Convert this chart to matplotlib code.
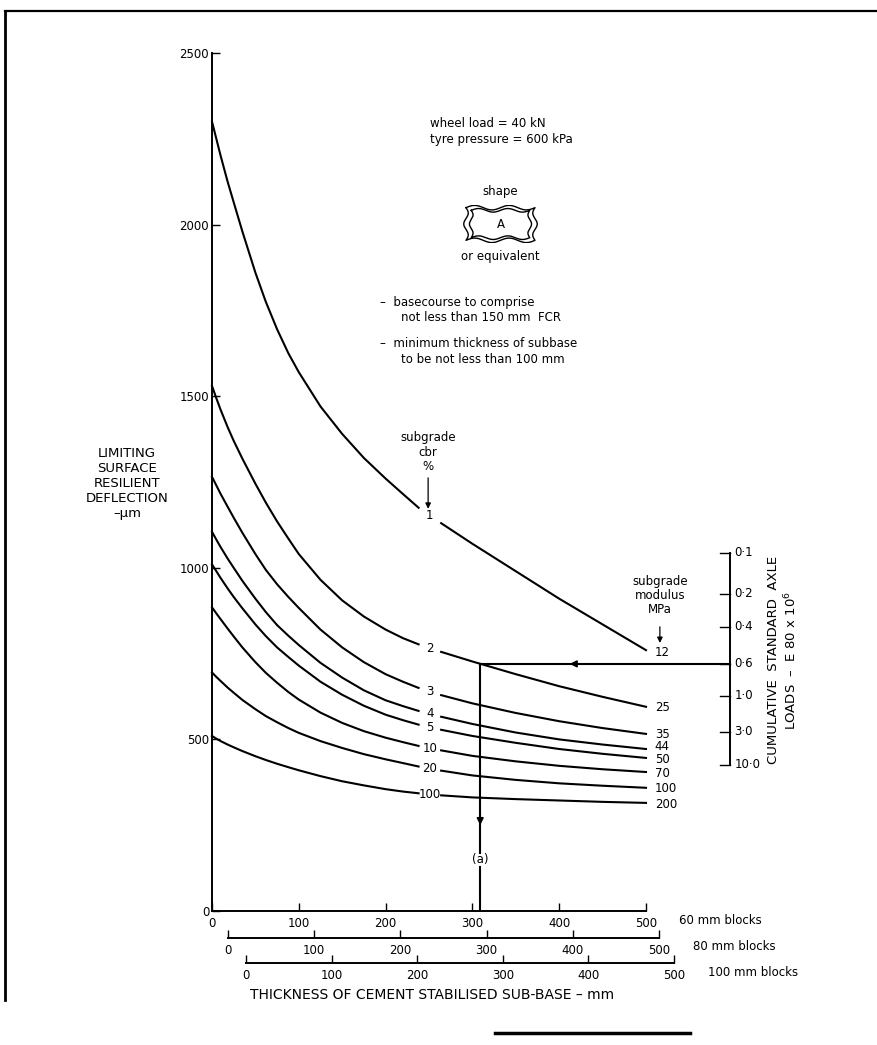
import matplotlib
matplotlib.use('Agg')
import matplotlib.pyplot as plt
import numpy as np

plt.rcParams['font.family'] = ['DejaVu Sans']

# thickness of cement stabilised sub-base, mm (60 mm block scale)
thick = [0, 5, 10, 18, 25, 35, 50, 62, 75, 88, 100, 125, 150, 175, 200, 220, 238,
         264, 300, 350, 400, 450, 500]
cbr = ['1', '2', '3', '4', '5', '10', '20', '100']
modulus = ['12', '25', '35', '44', '50', '70', '100', '200']
modulus_y = [752, 592, 513, 480, 440, 402, 356, 309]
defl_1 = [2300, 2250, 2200, 2125, 2065, 1980, 1860, 1775, 1695, 1625, 1570, 1470, 1390,
          1320, 1260, 1215, 1175, 1130, 1070, 990, 910, 835, 760]
defl_2 = [1530, 1494, 1460, 1410, 1370, 1318, 1245, 1190, 1135, 1085, 1040, 965, 905,
          858, 820, 795, 777, 755, 727, 690, 655, 624, 595]
defl_3 = [1265, 1240, 1215, 1178, 1146, 1102, 1040, 994, 952, 915, 883, 820, 768,
          725, 690, 668, 650, 629, 605, 577, 553, 533, 516]
defl_4 = [1105, 1082, 1060, 1027, 1000, 962, 910, 871, 833, 802, 775, 723, 680,
          643, 614, 597, 583, 566, 545, 520, 500, 485, 472]
defl_5 = [1010, 990, 970, 940, 915, 882, 835, 801, 768, 740, 715, 668, 630,
          598, 572, 556, 543, 528, 510, 490, 472, 458, 446]
defl_10 = [885, 867, 850, 823, 800, 768, 725, 694, 665, 638, 616, 578, 548,
           524, 505, 492, 481, 468, 452, 436, 423, 413, 405]
defl_20 = [695, 682, 670, 651, 636, 615, 588, 568, 550, 533, 519, 495, 475,
           457, 442, 431, 421, 409, 395, 382, 372, 365, 359]
defl_100 = [510, 502, 495, 485, 477, 466, 451, 440, 429, 419, 410, 393, 378,
            366, 355, 348, 343, 337, 331, 326, 322, 318, 315]
curves = [defl_1, defl_2, defl_3, defl_4, defl_5, defl_10, defl_20, defl_100]
gap = 17  # curves are broken between thick[16] and thick[17] for the cbr label

# cumulative standard axle loads (E80 x 10^6) nomogram scale
axle_loads = ['0·1', '0·2', '0·4', '0·6', '1·0', '3·0', '10·0']
axle_defl = [1044, 924, 828, 720, 627, 522, 426]

# worked example (a)
design_defl = 720
design_thick = 309

block_ticks = [0, 100, 200, 300, 400, 500]
block_names = ['60 mm blocks', '80 mm blocks', '100 mm blocks']

W, H = 878, 1045
fig = plt.figure(figsize=(W / 100, H / 100), dpi=100)
ax = fig.add_axes([212 / W, (H - 911) / H, (646 - 212) / W, (911 - 53) / H])
ax.set_xlim(0, 500)
ax.set_ylim(0, 2500)
for s in ['top', 'right']:
    ax.spines[s].set_visible(False)
for s in ['left', 'bottom']:
    ax.spines[s].set_linewidth(1.4)
ax.set_yticks([0, 500, 1000, 1500, 2000, 2500])
ax.set_xticks(block_ticks)
ax.tick_params(direction='in', length=6, width=1, labelsize=8.5, pad=2)
ax.tick_params(axis='x', pad=4)

# deflection curves, broken where the cbr label sits
for d, c, m, my in zip(curves, cbr, modulus, modulus_y):
    ax.plot(thick[:gap], d[:gap], color='k', lw=1.5, clip_on=False)
    ax.plot(thick[gap:], d[gap:], color='k', lw=1.5, clip_on=False)
    ax.text(251, (d[gap - 1] + d[gap]) / 2, c, ha='center', va='center', fontsize=8.5)
    ax.text(510, my, m, ha='left', va='center', fontsize=8.5)

# y label
ax.text(-98, 1247, 'LIMITING\nSURFACE\nRESILIENT\nDEFLECTION\n–μm', ha='center',
        va='center', fontsize=9.5, linespacing=1.2)

# notes
ax.text(251, 2296, 'wheel load = 40 kN', fontsize=8.5, va='center')
ax.text(251, 2249, 'tyre pressure = 600 kPa', fontsize=8.5, va='center')
ax.text(332, 2095, 'shape', fontsize=8.5, ha='center', va='center')
ax.text(332, 1906, 'or equivalent', fontsize=8.5, ha='center', va='center')
ax.text(194, 1774, '–  basecourse to comprise', fontsize=8.5, va='center')
ax.text(218, 1728, 'not less than 150 mm  FCR', fontsize=8.5, va='center')
ax.text(194, 1655, '–  minimum thickness of subbase', fontsize=8.5, va='center')
ax.text(218, 1608, 'to be not less than 100 mm', fontsize=8.5, va='center')

# shape A sketch
sa = fig.add_axes([463 / W, (H - 243) / H, 75 / W, 38 / H])
sa.set_xlim(0, 1)
sa.set_ylim(0, 1)
sa.axis('off')
t = np.linspace(0, 1, 60)
for off, amp in [(0.0, 1.0), (0.07, 0.8)]:
    top_x = 0.04 + off + (0.92 - 2 * off) * t
    top_y = 0.93 - off + 0.06 * amp * np.sin(2 * np.pi * 2 * t)
    rgt_y = 0.93 - off - (0.86 - 2 * off) * t
    rgt_x = 0.96 - off - 0.03 * amp * np.sin(2 * np.pi * 1.5 * t)
    bot_x = top_x[::-1]
    bot_y = 0.07 + off - 0.06 * amp * np.sin(2 * np.pi * 2 * t)
    lft_y = rgt_y[::-1]
    lft_x = 0.04 + off + 0.03 * amp * np.sin(2 * np.pi * 1.5 * t)
    xs = np.concatenate([top_x, rgt_x, bot_x, lft_x, top_x[:1]])
    ys = np.concatenate([top_y, rgt_y, bot_y, lft_y, top_y[:1]])
    sa.plot(xs, ys, color='k', lw=1.0)
sa.text(0.5, 0.5, 'A', ha='center', va='center', fontsize=8.5)

# subgrade cbr / modulus headings
ax.text(249, 1336, 'subgrade\ncbr\n%', ha='center', va='center', fontsize=8.5, linespacing=1.15)
ax.annotate('', xy=(249, 1172), xytext=(249, 1262),
            arrowprops=dict(arrowstyle='-|>', color='k', lw=0.9, mutation_scale=8,
                            shrinkA=0, shrinkB=0))
ax.text(516, 918, 'subgrade\nmodulus\nMPa', ha='center', va='center', fontsize=8.5,
        linespacing=1.1, clip_on=False)
ax.annotate('', xy=(516, 781), xytext=(516, 828),
            arrowprops=dict(arrowstyle='-|>', color='k', lw=0.9, mutation_scale=8,
                            shrinkA=0, shrinkB=0), annotation_clip=False)

# axle load scale on the right
sx = 597
ax.plot([sx, sx], [axle_defl[0], axle_defl[-1]], color='k', lw=1.4, clip_on=False)
for lab, d in zip(axle_loads, axle_defl):
    ax.plot([sx - 12, sx], [d, d], color='k', lw=1.0, clip_on=False)
    ax.text(sx + 5, d, lab, va='center', ha='left', fontsize=8.5)
ax.text(658, 731, 'CUMULATIVE  STANDARD  AXLE\nLOADS  –  E 80 x 10$^{6}$', rotation=90,
        ha='center', va='center', fontsize=9.5, linespacing=1.25)

# worked example (a)
ax.plot([design_thick, sx], [design_defl, design_defl], color='k', lw=1.5, clip_on=False)
ax.annotate('', xy=(412, design_defl), xytext=(440, design_defl),
            arrowprops=dict(arrowstyle='-|>', color='k', lw=1.2, mutation_scale=10,
                            shrinkA=0, shrinkB=0))
ax.plot([design_thick, design_thick], [design_defl, 170], color='k', lw=1.5)
ax.plot([design_thick, design_thick], [128, 0], color='k', lw=1.5)
ax.annotate('', xy=(design_thick, 250), xytext=(design_thick, 290),
            arrowprops=dict(arrowstyle='-|>', color='k', lw=1.2, mutation_scale=10,
                            shrinkA=0, shrinkB=0))
ax.text(design_thick, 149, '(a)', ha='center', va='center', fontsize=8.5)

# 80 mm and 100 mm block thickness scales
for name, x0, x1, yl in [(block_names[1], 228, 659, 938), (block_names[2], 246, 674, 963)]:
    bx = fig.add_axes([x0 / W, (H - yl) / H, (x1 - x0) / W, 1 / H])
    bx.set_xlim(0, 500)
    bx.set_yticks([])
    for s in ['top', 'right', 'left']:
        bx.spines[s].set_visible(False)
    bx.spines['bottom'].set_linewidth(1.4)
    bx.patch.set_alpha(0)
    bx.set_xticks(block_ticks)
    bx.tick_params(axis='x', direction='in', length=6, width=1, labelsize=8.5, pad=4)
    fig.text((x1 + 34) / W, (H - yl - 9) / H, name, fontsize=8.5, va='center')
fig.text(679 / W, (H - 921) / H, block_names[0], fontsize=8.5, va='center')
fig.text(432 / W, (H - 995) / H, 'THICKNESS OF CEMENT STABILISED SUB-BASE – mm',
         fontsize=10, ha='center', va='center')

# page border and edge mark from the scan
fig.add_artist(plt.Line2D([5 / W, 1], [1 - 11 / H, 1 - 11 / H], color='k', lw=1.6))
fig.add_artist(plt.Line2D([5 / W, 5 / W], [1 - 11 / H, 1 - 1000 / H], color='k', lw=2))
fig.add_artist(plt.Line2D([495 / W, 690 / W], [1 - 1033 / H, 1 - 1033 / H], color='k', lw=2.5))

fig.savefig('out.png', dpi=100)
